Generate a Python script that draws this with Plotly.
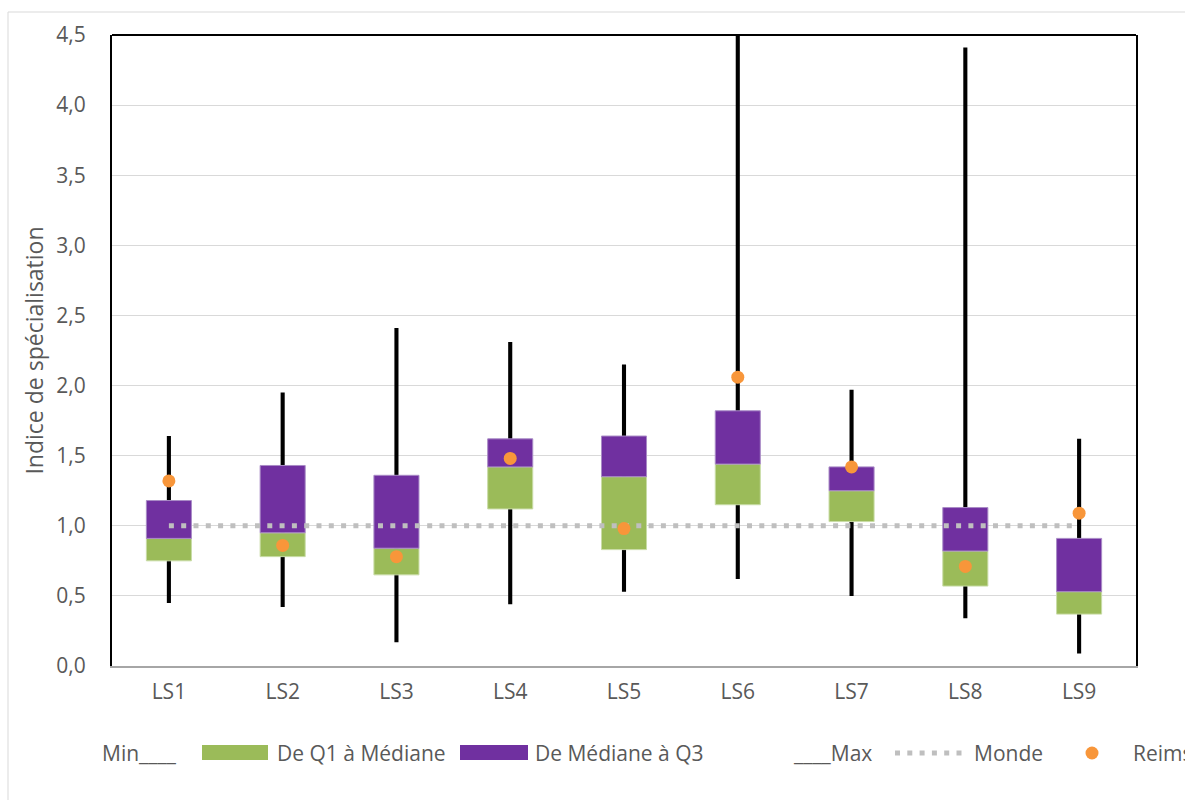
import plotly.graph_objects as go

# ---------------- data ----------------
categories = ["LS1", "LS2", "LS3", "LS4", "LS5", "LS6", "LS7", "LS8", "LS9"]
mins  = [0.45, 0.42, 0.17, 0.44, 0.53, 0.62, 0.50, 0.34, 0.09]
q1    = [0.75, 0.78, 0.65, 1.12, 0.83, 1.15, 1.03, 0.57, 0.37]
med   = [0.91, 0.95, 0.84, 1.42, 1.35, 1.44, 1.25, 0.82, 0.53]
q3    = [1.18, 1.43, 1.36, 1.62, 1.64, 1.82, 1.42, 1.13, 0.91]
maxs  = [1.64, 1.95, 2.41, 2.31, 2.15, 4.60, 1.97, 4.41, 1.62]
reims = [1.32, 0.86, 0.78, 1.48, 0.98, 2.06, 1.42, 0.71, 1.09]
monde = [1.0, 1.0, 1.0, 1.0, 1.0, 1.0, 1.0, 1.0, 1.0]
yticks = [0, 0.5, 1, 1.5, 2, 2.5, 3, 3.5, 4, 4.5]

# ---------------- style ----------------
GREEN = "#9BBB59"
PURPLE = "#7030A0"
ORANGE = "#F8963A"
GREY_DOT = "#BFBFBF"
TXT = "#595959"
FONT = "Open Sans"
FS = 21

W, H = 1185, 800
ML, MR, MT, MB = 112, 49, 35, 134
PW, PH = W - ML - MR, H - MT - MB


def px(x):
    return (x - ML) / PW


def py(y):
    return (H - MB - y) / PH


fig = go.Figure()

# whiskers (min -> max)
fig.add_trace(go.Bar(
    x=categories, base=mins, y=[b - a for a, b in zip(mins, maxs)],
    width=0.036, marker=dict(color="black", line=dict(width=0)),
    showlegend=False, hoverinfo="skip"))
# Q1 -> median
fig.add_trace(go.Bar(
    x=categories, base=q1, y=[b - a for a, b in zip(q1, med)],
    width=0.396, marker=dict(color=GREEN, line=dict(color="#C9DCA6", width=1)),
    showlegend=False, name="De Q1 à Médiane"))
# median -> Q3
fig.add_trace(go.Bar(
    x=categories, base=med, y=[b - a for a, b in zip(med, q3)],
    width=0.396, marker=dict(color=PURPLE, line=dict(color="#A98BC6", width=1)),
    showlegend=False, name="De Médiane à Q3"))
# Monde
fig.add_trace(go.Scatter(
    x=categories, y=monde, mode="lines",
    line=dict(color=GREY_DOT, width=5, dash="5px,7.3px"),
    showlegend=False, name="Monde"))
# Reims
fig.add_trace(go.Scatter(
    x=categories, y=reims, mode="markers",
    marker=dict(color=ORANGE, size=13, line=dict(width=0)),
    showlegend=False, name="Reims"))

fig.update_layout(
    width=W, height=H,
    margin=dict(l=ML, r=MR, t=MT, b=MB),
    paper_bgcolor="white", plot_bgcolor="white",
    barmode="overlay", separators=", ",
    font=dict(family=FONT, size=FS, color=TXT),
    showlegend=False,
)

fig.update_xaxes(
    type="category", range=[-0.5, 8.5],
    showgrid=False, showline=True, linecolor="#A6A6A6", linewidth=2,
    ticks="", tickfont=dict(family=FONT, size=FS, color=TXT),
    ticklabelstandoff=6,
)
fig.update_yaxes(
    range=[0, 4.5], tickvals=yticks, tickformat=".1f",
    showgrid=True, gridcolor="#D9D9D9", gridwidth=1.3,
    zeroline=False, showline=True, linecolor="black", linewidth=2, mirror=True,
    ticks="", tickfont=dict(family=FONT, size=FS, color=TXT),
    ticklabelstandoff=20,
    title=dict(text="Indice de spécialisation", font=dict(family=FONT, size=23, color=TXT),
               standoff=6),
)

shapes = []
# top border of plot area
shapes.append(dict(type="line", xref="paper", yref="paper", x0=0, x1=1, y0=1, y1=1,
                   line=dict(color="black", width=2)))
# outer chart border
shapes.append(dict(type="rect", xref="paper", yref="paper",
                   x0=px(8), x1=px(W + 20), y0=py(H + 20), y1=py(12),
                   line=dict(color="#D9D9D9", width=1), fillcolor="rgba(0,0,0,0)", layer="below"))

# ---------------- manual legend ----------------
LY = 753
legend_texts = [("Min____", 100), ("De Q1 à Médiane", 275), ("De Médiane à Q3", 533),
                ("____Max", 791), ("Monde", 972), ("Reims", 1131)]
annotations = []
for txt, x0 in legend_texts:
    annotations.append(dict(text=txt, xref="paper", yref="paper", x=px(x0), y=py(LY),
                            xanchor="left", yanchor="middle", showarrow=False,
                            font=dict(family=FONT, size=FS, color=TXT)))
shapes.append(dict(type="rect", xref="paper", yref="paper", x0=px(202), x1=px(268),
                   y0=py(760), y1=py(745), fillcolor=GREEN, line=dict(width=0)))
shapes.append(dict(type="rect", xref="paper", yref="paper", x0=px(460), x1=px(528),
                   y0=py(760), y1=py(745), fillcolor=PURPLE, line=dict(width=0)))
shapes.append(dict(type="line", xref="paper", yref="paper", x0=px(895), x1=px(963),
                   y0=py(LY), y1=py(LY), line=dict(color=GREY_DOT, width=5, dash="5px,7.3px")))
shapes.append(dict(type="circle", xref="paper", yref="paper", x0=px(1085.5), x1=px(1098.5),
                   y0=py(759.5), y1=py(746.5), fillcolor=ORANGE, line=dict(width=0)))

fig.update_layout(shapes=shapes, annotations=annotations)

fig.write_html("out.html", config={"displayModeBar": False},
               post_script="document.body.style.margin='0px';document.body.style.overflow='hidden';")
